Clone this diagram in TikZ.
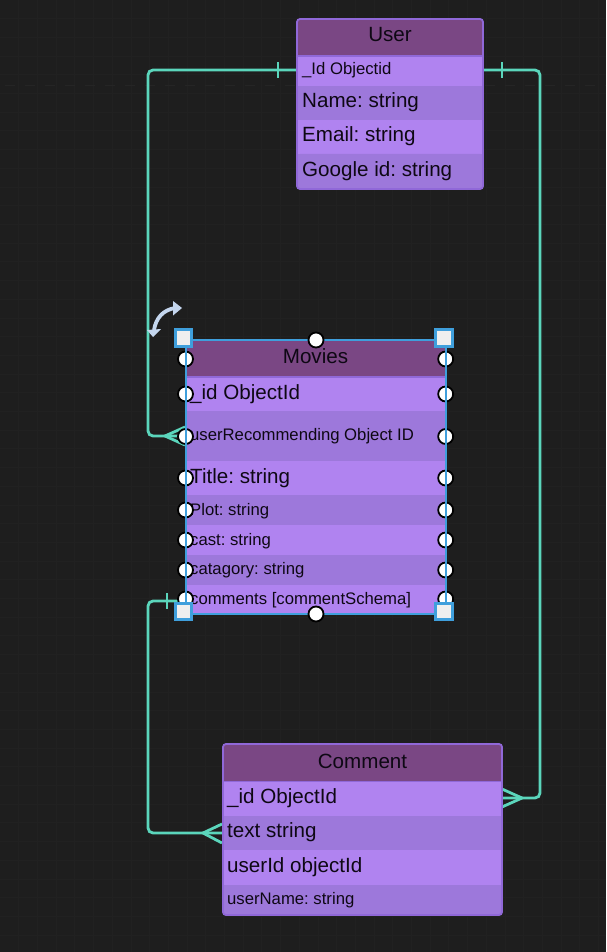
\documentclass[tikz,border=0pt]{standalone}
\usepackage{fontspec}
\setmainfont{Liberation Sans}
\frenchspacing
\definecolor{bgc}{HTML}{1E1E1E}
\definecolor{gridc}{HTML}{212121}
\definecolor{dashc}{HTML}{252525}
\definecolor{headc}{HTML}{7A4784}
\definecolor{rowa}{HTML}{B083F0}
\definecolor{rowb}{HTML}{9D78DB}
\definecolor{edgec}{HTML}{9068D8}
\definecolor{linkc}{HTML}{5BD6BC}
\definecolor{selc}{HTML}{3F9FDC}
\definecolor{handc}{HTML}{EFEFEF}
\definecolor{rotc}{HTML}{C4D6EE}
\definecolor{txtc}{HTML}{0E0814}
\tikzset{
 x=1pt,y=-1pt,
 header/.style={inner sep=0pt,text=txtc,font=\fontsize{20.6}{22}\selectfont},
 txt/.style={anchor=base west,inner sep=0pt,text=txtc},
 big/.style={font=\fontsize{20.6}{22}\selectfont},
 mid/.style={font=\fontsize{16.7}{20}\selectfont},
 link/.style={draw=linkc,line width=2.8pt,rounded corners=5pt},
 tick/.style={draw=linkc,line width=2.8pt},
 dot/.style={circle,fill=white,draw=black,line width=1.8pt,minimum size=15pt,inner sep=0pt},
 handle/.style={fill=handc,draw=selc,line width=3pt,minimum size=16.5pt,inner sep=0pt,rectangle},
 outl/.style={draw=edgec,line width=1.8pt,rounded corners=3pt}
}
\begin{document}
\begin{tikzpicture}
\fill[bgc] (0,0) rectangle (606,952);
\useasboundingbox (0,0) rectangle (606,952);
\foreach \g in {18.7,37.4,...,600}{\draw[gridc,line width=.8pt] (\g,0)--(\g,952);}
\foreach \g in {18.7,37.4,...,950}{\draw[gridc,line width=.8pt] (0,\g)--(606,\g);}
\draw[dashc,line width=1.6pt,dash pattern=on 10pt off 10pt,dash phase=-5pt] (0,85.5)--(606,85.5);

% connector anchors
\coordinate (uL) at (297,70);
\coordinate (uR) at (483,70);
\coordinate (mL) at (185,436);
\coordinate (mB) at (185,601);
\coordinate (cL) at (222,833);
\coordinate (cR) at (502,798);
\coordinate (ulc) at (148,70);
\coordinate (llc) at (148,436);
\coordinate (rtc) at (540,70);
\coordinate (rbc) at (540,798);
\coordinate (blt) at (148,601);
\coordinate (blb) at (148,833);

% Connectors
\draw[link] (uL) -- (ulc) -- (llc) -- (mL);
\draw[tick] (278,62) -- (278,78);
\draw[link] (uR) -- (rtc) -- (rbc) -- (cR);
\draw[tick] (502,62) -- (502,78);
\draw[link] (mB) -- (blt) -- (blb) -- (cL);
\draw[tick] (167,593) -- (167,609);
% crow feet
\draw[tick] (185,427) -- (165,436) -- (185,445);
\draw[tick] (502,789) -- (522,798) -- (502,807);
\draw[tick] (222,824) -- (203,833) -- (222,843);

% User
\fill[rowa,rounded corners=3pt] (297,19) rectangle (483,189);
\fill[headc,rounded corners=3pt] (297,19) rectangle (483,45);
\fill[headc] (297,35) rectangle (483,56);
\fill[rowa] (297,56) rectangle (483,86);
\fill[rowb] (297,86) rectangle (483,120);
\fill[rowa] (297,120) rectangle (483,154);
\fill[rowb,rounded corners=3pt] (297,154) rectangle (483,189);
\fill[rowb] (297,154) rectangle (483,175);
\draw[edgec,line width=1.4pt] (297,56) -- (483,56);
\draw[outl] (297,19) rectangle (483,189);
\node[header] (uh) at (390,35) {User};
\node[txt,mid] (u1) at (302,75) {\_Id Objectid};
\node[txt,big] (u2) at (302,107.5) {Name: string};
\node[txt,big] (u3) at (302,141.5) {Email: string};
\node[txt,big] (u4) at (302,176) {Google id: string};

% Comment
\fill[rowa,rounded corners=3pt] (223,744) rectangle (502,915);
\fill[headc,rounded corners=3pt] (223,744) rectangle (502,770);
\fill[headc] (223,760) rectangle (502,782);
\fill[rowa] (223,782) rectangle (502,816);
\fill[rowb] (223,816) rectangle (502,850);
\fill[rowa] (223,850) rectangle (502,885);
\fill[rowb,rounded corners=3pt] (223,885) rectangle (502,915);
\fill[rowb] (223,885) rectangle (502,900);
\draw[edgec,line width=1.4pt] (223,781.5) -- (502,781.5);
\draw[outl] (223,744) rectangle (502,915);
\node[header] (ch) at (362.5,761) {Comment};
\node[txt,big] (c1) at (227,803) {\_id ObjectId};
\node[txt,big] (c2) at (227,837) {text string};
\node[txt,big] (c3) at (227,872) {userId objectId};
\node[txt,mid] (c4) at (227,904) {userName: string};

% Movies
\fill[headc] (185,340) rectangle (446,377);
\fill[rowa] (185,377) rectangle (446,411);
\fill[rowb] (185,411) rectangle (446,461);
\fill[rowa] (185,461) rectangle (446,495);
\fill[rowb] (185,495) rectangle (446,525);
\fill[rowa] (185,525) rectangle (446,555);
\fill[rowb] (185,555) rectangle (446,585);
\fill[rowa] (185,585) rectangle (446,614);
\draw[edgec,line width=1.4pt] (185,377) -- (446,377);
\node[header] (mh) at (315.5,356) {Movies};
\node[txt,big] (m1) at (190,399) {\_id ObjectId};
\node[txt,mid] (m2) at (190,440) {userRecommending Object ID};
\node[txt,big] (m3) at (190,483) {Title: string};
\node[txt,mid] (m4) at (190,515) {Plot: string};
\node[txt,mid] (m5) at (190,545) {cast: string};
\node[txt,mid] (m6) at (190,574) {catagory: string};
\node[txt,mid] (m7) at (190,604) {comments [commentSchema]};

% Selection
\draw[selc,line width=2pt] (185.5,340) -- (445.7,340);
\draw[selc,line width=2pt] (185.5,614) -- (445.7,614);
\foreach \n/\px/\py in {a/185.5/359,b/185.5/394,c/185.5/436.5,d/185.5/478,e/185.5/510,f/185.5/540,g/185.5/570,h/185.5/599,
  i/445.7/359,j/445.7/394,k/445.7/436.5,l/445.7/478,m/445.7/510,n/445.7/540,o/445.7/570,p/445.7/599,q/316/340,r/316/614}{
  \node[dot] (dot\n) at (\px,\py) {};
}
\draw[selc,line width=2pt] (185.5,340) -- (185.5,614);
\draw[selc,line width=2pt] (445.7,340) -- (445.7,614);
\node[handle] (h1) at (183.7,338) {};
\node[handle] (h2) at (444,338) {};
\node[handle] (h3) at (183.7,611.5) {};
\node[handle] (h4) at (444,611.5) {};

% Rotate glyph
\draw[rotc,line width=3.8pt] (154,330) .. controls (156,318) and (163,310) .. (175,308);
\fill[rotc] (147,330) -- (161,329) -- (153,337) -- cycle;
\fill[rotc] (173,301) -- (182,308) -- (173,315.5) -- cycle;
\end{tikzpicture}
\end{document}
